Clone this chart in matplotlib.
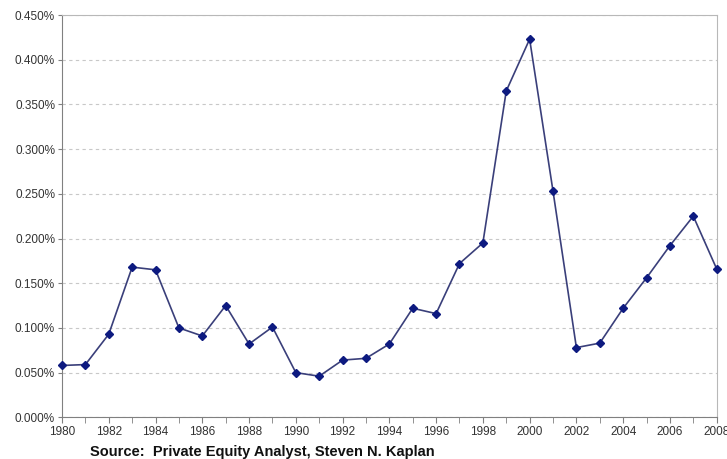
import matplotlib
matplotlib.use("Agg")
import matplotlib.pyplot as plt
from matplotlib.ticker import FuncFormatter, MultipleLocator

plt.rcParams["font.family"] = ["Liberation Sans", "DejaVu Sans"]

years = list(range(1980, 2009))
share = [0.058, 0.059, 0.093, 0.168, 0.165, 0.100, 0.091, 0.125, 0.082, 0.101,
         0.050, 0.046, 0.064, 0.066, 0.082, 0.122, 0.116, 0.172, 0.195, 0.365,
         0.423, 0.253, 0.078, 0.083, 0.122, 0.156, 0.192, 0.225, 0.166]

fig = plt.figure(figsize=(7.27, 4.59), dpi=100)
ax = fig.add_axes([0.0853, 0.0908, 0.9005, 0.8765])

ax.plot(years, share, color="#3a3f7a", lw=1.2, marker="D", ms=4,
        mfc="#0d1a80", mec="#0d1a80", zorder=3, clip_on=False)

ax.set_xlim(1980, 2008)
ax.set_ylim(0, 0.45)
ax.xaxis.set_major_locator(MultipleLocator(2))
ax.xaxis.set_minor_locator(MultipleLocator(1))
ax.yaxis.set_major_locator(MultipleLocator(0.05))
ax.yaxis.set_major_formatter(FuncFormatter(lambda v, p: "{:.3f}%".format(v)))

ax.grid(axis="y", color="#c8c8c8", ls=(0, (3, 3)), lw=0.8)
ax.set_axisbelow(True)

for side in ("top", "right"):
    ax.spines[side].set_color("#b8b8b8")
for side in ("left", "bottom"):
    ax.spines[side].set_color("#808080")

ax.tick_params(axis="both", which="both", direction="out", color="#808080",
               labelsize=8.5, labelcolor="#333333")
ax.tick_params(axis="x", which="major", length=4, pad=2)
ax.tick_params(axis="x", which="minor", length=4)
ax.tick_params(axis="y", length=3, pad=2)

fig.text(0.124, 0.006, "Source:  Private Equity Analyst, Steven N. Kaplan",
         fontsize=10.5, fontweight="bold", color="#111111")

fig.savefig("out.png", dpi=100)
